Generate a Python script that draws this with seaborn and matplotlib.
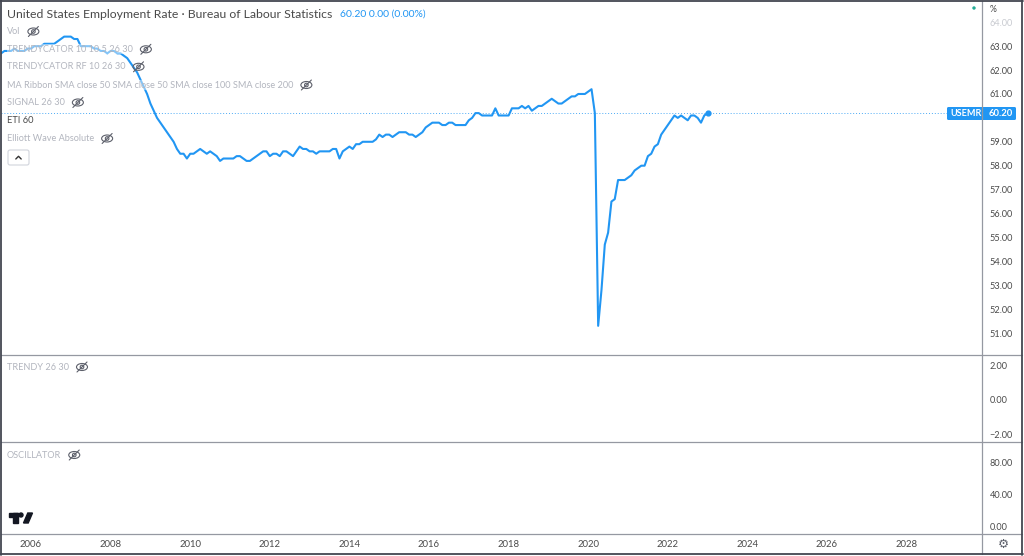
import matplotlib
matplotlib.use("Agg")
import matplotlib.pyplot as plt
import seaborn as sns
import pandas as pd
from matplotlib.patches import Ellipse, Circle, FancyBboxPatch, Rectangle, Polygon
from matplotlib.lines import Line2D

# ---------------- data (monthly employment rate, %) ----------------
v2005 = [62.4, 62.5, 62.7, 62.7, 62.8, 62.8, 62.8, 62.9, 62.8, 62.8, 62.8, 62.9]
v2006 = [62.9, 63.0, 63.0, 63.0, 63.1, 63.1, 63.1, 63.1, 63.2, 63.3, 63.4, 63.4]
v2007 = [63.4, 63.3, 63.3, 63.0, 63.0, 63.0, 63.0, 62.9, 62.9, 62.8, 62.8, 62.7]
v2008 = [62.8, 62.8, 62.7, 62.7, 62.6, 62.5, 62.3, 62.1, 61.9, 61.6, 61.3, 61.0]
v2009 = [60.6, 60.3, 60.0, 59.8, 59.6, 59.4, 59.2, 59.0, 58.7, 58.5, 58.5, 58.3]
v2010 = [58.5, 58.5, 58.6, 58.7, 58.6, 58.5, 58.6, 58.5, 58.4, 58.2, 58.3, 58.3]
v2011 = [58.3, 58.3, 58.4, 58.4, 58.3, 58.2, 58.2, 58.3, 58.4, 58.5, 58.6, 58.6]
v2012 = [58.4, 58.5, 58.5, 58.4, 58.6, 58.6, 58.5, 58.4, 58.6, 58.8, 58.7, 58.7]
v2013 = [58.6, 58.6, 58.5, 58.6, 58.6, 58.6, 58.6, 58.7, 58.7, 58.3, 58.6, 58.7]
v2014 = [58.8, 58.7, 58.9, 58.9, 59.0, 59.0, 59.0, 59.0, 59.1, 59.3, 59.2, 59.3]
v2015 = [59.3, 59.2, 59.3, 59.4, 59.4, 59.4, 59.3, 59.3, 59.2, 59.3, 59.4, 59.6]
v2016 = [59.7, 59.8, 59.8, 59.8, 59.7, 59.7, 59.8, 59.8, 59.7, 59.7, 59.7, 59.7]
v2017 = [59.9, 60.0, 60.2, 60.2, 60.1, 60.1, 60.1, 60.1, 60.4, 60.1, 60.1, 60.1]
v2018 = [60.1, 60.4, 60.4, 60.4, 60.5, 60.4, 60.5, 60.3, 60.4, 60.5, 60.5, 60.6]
v2019 = [60.7, 60.8, 60.7, 60.6, 60.6, 60.7, 60.8, 60.9, 60.9, 61.0, 61.0, 61.0]
v2020 = [61.1, 61.2, 60.2, 51.3, 52.8, 54.7, 55.2, 56.5, 56.6, 57.4, 57.4, 57.4]
v2021 = [57.5, 57.6, 57.8, 57.9, 58.0, 58.0, 58.4, 58.5, 58.8, 58.9, 59.3, 59.5]
v2022 = [59.7, 59.9, 60.1, 60.0, 60.1, 60.0, 59.9, 60.1, 60.1, 60.0, 59.8, 60.1]
v2023 = [60.2]

year_blocks = [(2005, v2005), (2006, v2006), (2007, v2007), (2008, v2008), (2009, v2009),
               (2010, v2010), (2011, v2011), (2012, v2012), (2013, v2013), (2014, v2014),
               (2015, v2015), (2016, v2016), (2017, v2017), (2018, v2018), (2019, v2019),
               (2020, v2020), (2021, v2021), (2022, v2022), (2023, v2023)]

x_tick_years = [2006, 2008, 2010, 2012, 2014, 2016, 2018, 2020, 2022, 2024, 2026, 2028]
x_tick_labels = [str(y) for y in x_tick_years]
y_main_ticks = [51, 52, 53, 54, 55, 56, 57, 58, 59, 61, 62, 63, 64]   # 60.00 is hidden by the price label
y_main_labels = ["%.2f" % v for v in y_main_ticks]
y_trendy_ticks = [2, 0, -2]
y_trendy_labels = ["2.00", "0.00", "\u22122.00"]
y_osc_ticks = [80, 40, 0]
y_osc_labels = ["80.00", "40.00", "0.00"]

title = "United States Employment Rate \u00b7 Bureau of Labour Statistics"
quote = "60.20 0.00 (0.00%)"
legend_items = [("Vol", True), ("TRENDYCATOR 10 10 5 26 30", True), ("TRENDYCATOR RF 10 26 30", True),
                ("MA Ribbon SMA close 50 SMA close 50 SMA close 100 SMA close 200", True),
                ("SIGNAL 26 30", True), ("ETI 60", False), ("Elliott Wave Absolute", True)]

rows = []
for yr, vals in year_blocks:
    for m, v in enumerate(vals):
        rows.append({"t": yr + m / 12.0, "v": v})
df = pd.DataFrame(rows)
last_val = df["v"].iloc[-1]

# ---------------- style ----------------
sns.set_style("white")
plt.rcParams["font.family"] = ["Lato", "DejaVu Sans"]

BLUE = "#2196f3"
GRID_LINE = "#9598a1"
BORDER = "#434651"
TXT = "#4a4a4a"
LIGHT = "#b2b5be"

W, H = 1024, 556
fig = plt.figure(figsize=(W / 100, H / 100), dpi=100)
fig.patch.set_facecolor("white")

def rect(x0, y0, x1, y1):
    return [x0 / W, 1 - y1 / H, (x1 - x0) / W, (y1 - y0) / H]

XLIM = (2005.246, 2029.894)
ax_main = fig.add_axes(rect(1, 1, 982, 355))
ax_tr = fig.add_axes(rect(1, 355, 982, 442))
ax_osc = fig.add_axes(rect(1, 442, 982, 534))

for a in (ax_main, ax_tr, ax_osc):
    a.set_xlim(*XLIM)
    for s in a.spines.values():
        s.set_visible(False)
    a.set_facecolor("white")
    a.yaxis.tick_right()
    a.tick_params(axis="y", length=0, pad=5.5, labelsize=6.6, labelcolor=TXT)

# main series
sns.lineplot(data=df, x="t", y="v", ax=ax_main, color=BLUE, linewidth=1.5, zorder=3)
ax_main.scatter([df["t"].iloc[-1]], [last_val], s=12, color=BLUE, zorder=4)
ax_main.axhline(last_val, color=BLUE, linestyle=(0, (1, 2)), linewidth=0.7, alpha=0.8, zorder=2)
ax_main.set_ylim(50.08, 64.89)
ax_main.set_yticks(y_main_ticks)
ax_main.set_yticklabels(y_main_labels)
ax_main.get_yticklabels()[-1].set_color("#c8cad0")
ax_main.set_xticks([])
ax_main.set_xlabel("")
ax_main.set_ylabel("")

ax_tr.set_ylim(-2.46, 2.58)
ax_tr.set_yticks(y_trendy_ticks)
ax_tr.set_yticklabels(y_trendy_labels)
ax_tr.set_xticks([])

ax_osc.set_ylim(-8.75, 106.25)
ax_osc.set_yticks(y_osc_ticks)
ax_osc.set_yticklabels(y_osc_labels)
ax_osc.set_xticks(x_tick_years)
ax_osc.set_xticklabels(x_tick_labels)
ax_osc.tick_params(axis="x", length=0, pad=4.5, labelsize=6.8, labelcolor=TXT)

# ---------------- overlay in pixel coordinates ----------------
ov = fig.add_axes([0, 0, 1, 1], zorder=10)
ov.set_xlim(0, W)
ov.set_ylim(H, 0)
ov.axis("off")
ov.patch.set_alpha(0)

def hline(y, x0, x1, c, lw=1.0):
    ov.add_line(Line2D([x0, x1], [y, y], color=c, lw=lw))

def vline(x, y0, y1, c, lw=1.0):
    ov.add_line(Line2D([x, x], [y0, y1], color=c, lw=lw))

hline(355, 1, 1022, GRID_LINE, 0.9)
hline(442, 1, 1022, GRID_LINE, 0.9)
hline(534, 1, 1022, GRID_LINE, 0.9)
vline(982, 1, 554, GRID_LINE, 0.9)
# outer border
hline(0.8, 0, 1022.5, BORDER, 1.3)
hline(554.2, 0, 1022.5, BORDER, 1.3)
vline(0.8, 0, 554.5, BORDER, 1.3)
vline(1022.3, 0, 554.5, BORDER, 1.3)

renderer = fig.canvas.get_renderer()

def eye(cx, cy):
    ov.add_patch(Ellipse((cx, cy), 11, 7, fill=False, ec="#5d606b", lw=0.8))
    ov.add_patch(Circle((cx, cy), 1.8, fill=False, ec="#5d606b", lw=0.8))
    ov.add_line(Line2D([cx - 5, cx + 5], [cy + 5, cy - 5], color="#5d606b", lw=0.8))

def text_with_eye(x, y, s, color, size):
    t = ov.text(x, y, s, color=color, fontsize=size, va="center", ha="left",
                bbox=dict(facecolor="white", alpha=0.45, edgecolor="none", pad=0.3))
    bb = t.get_window_extent(renderer=renderer)
    eye(bb.x1 + 13, y)
    return t

ov.text(7, 14, title, color="#4a4a4a", fontsize=8.8, va="center", ha="left")
ov.text(340, 14, quote, color=BLUE, fontsize=7.5, va="center", ha="left")

leg_y = [31.5, 49.3, 66.8, 85, 102.5, 120.7, 138.5]
for (label, hidden), y in zip(legend_items, leg_y):
    if hidden:
        text_with_eye(7, y, label, LIGHT, 6.55)
    else:
        ov.text(7, y, label, color="#4a4a4a", fontsize=6.7, va="center", ha="left")

text_with_eye(7, 367, "TRENDY 26 30", LIGHT, 6.55)
text_with_eye(7, 455, "OSCILLATOR", LIGHT, 6.55)

# collapse button
ov.add_patch(FancyBboxPatch((8, 150), 21, 15, boxstyle="round,pad=0,rounding_size=2",
                            ec="#d1d4dc", fc="white", lw=0.8))
ov.add_line(Line2D([15.8, 18.5, 21.2], [159, 156.3, 159], color="#333333", lw=1.0))

# price label
ov.add_patch(FancyBboxPatch((947, 107), 69, 13, boxstyle="round,pad=0,rounding_size=1.5",
                            ec="none", fc=BLUE))
ov.text(950.5, 113.5, "USEMR", color="white", fontsize=6.6, va="center", ha="left", weight="bold")
ov.text(989, 113.5, "%.2f" % last_val, color="white", fontsize=6.8, va="center", ha="left", weight="bold")
ov.text(990, 10, "%", color=TXT, fontsize=6.2, va="center", ha="left")
ov.add_patch(Circle((974, 8), 1.0, color="#22ab94"))

# logo
ov.add_patch(Rectangle((9, 513), 9, 3.6, color="#131722"))
ov.add_patch(Rectangle((13.3, 513), 4.2, 10, color="#131722"))
ov.add_patch(Circle((21, 515), 2.0, color="#131722"))
ov.add_patch(Polygon([(23.5, 523), (28.2, 523), (32.5, 513), (27.8, 513)], closed=True, color="#131722"))

# gear
ov.text(1003, 544, "\u2699", color="#5d606b", fontsize=9, va="center", ha="center",
        family="DejaVu Sans")

fig.savefig("out.png", dpi=100, facecolor="white")
